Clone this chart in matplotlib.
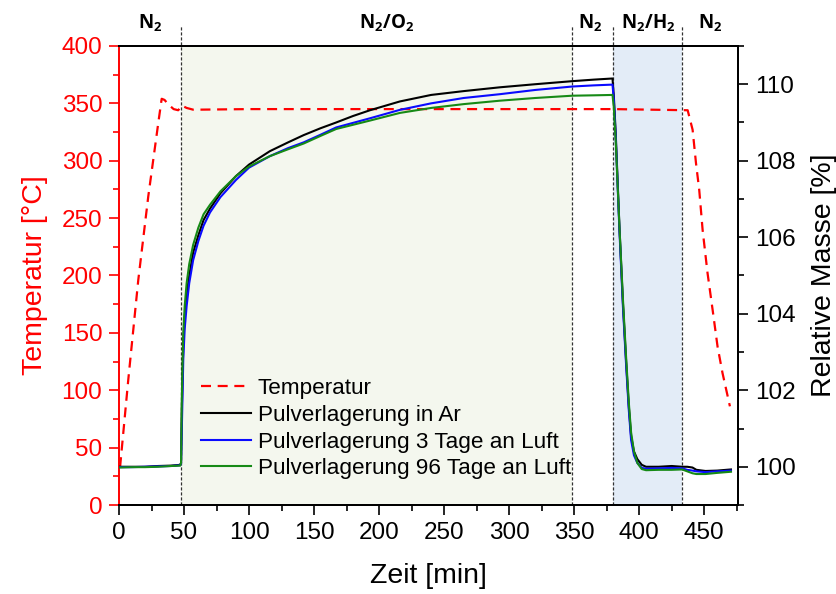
import numpy as np
import matplotlib
matplotlib.use("Agg")
import matplotlib.pyplot as plt
from matplotlib.ticker import MultipleLocator

plt.rcParams['font.family'] = ['Liberation Sans', 'DejaVu Sans']
plt.rcParams['mathtext.fontset'] = 'custom'
plt.rcParams['mathtext.rm'] = 'Open Sans:bold'
plt.rcParams['mathtext.it'] = 'Open Sans:bold'
plt.rcParams['mathtext.bf'] = 'Open Sans:bold'

# temperature program (left axis)
t_temp = [0.8, 7.1, 14.8, 22.5, 30.2, 32.8, 35, 38, 42, 45.5, 48.5, 52, 57, 61,
          100, 200, 300, 380, 437.3, 441.1, 443.7, 446.2, 448.8, 452.6, 456.5,
          460.3, 464.1, 469.8]
temp = [33, 109, 196, 269, 333, 354, 353, 349, 345, 344, 348, 346, 344.5, 344.5,
        345, 345, 345, 345, 344, 327, 298, 274.5, 239.7, 202, 170,
        138, 115, 86]

# relative mass (right axis)
t_mass = [0, 10, 20, 30, 40, 47, 47.7, 48.3, 49.4, 50.5, 52, 54, 57, 61, 65, 70,
          78, 90, 100, 116, 130, 142, 155, 167, 180, 193, 216, 240, 265, 293,
          320, 348.5, 365, 379.5, 380.5, 382, 384.8, 387.5, 389.9, 392, 393.8,
          396, 398.6, 402, 405.3, 415, 425, 433, 437, 441, 444, 451, 460, 470.6]
m_ar = [100.0, 100.0, 100.0, 100.02, 100.03, 100.05, 100.1, 101.5, 103.2, 103.9,
        104.5, 105.0, 105.6, 106.05, 106.45, 106.75, 107.15, 107.6, 107.9, 108.25,
        108.48, 108.67, 108.85, 109.0, 109.17, 109.32, 109.55, 109.72, 109.82,
        109.92, 110.0, 110.08, 110.12, 110.15, 109.7, 108.7, 106.3, 104.3, 102.8,
        101.6, 100.8, 100.4, 100.2, 100.05, 100.0, 100.0, 100.02, 100.0, 100.0,
        99.98, 99.92, 99.89, 99.9, 99.93]
m_3d = [99.99, 99.99, 100.0, 100.01, 100.02, 100.04, 100.08, 101.0, 102.8, 103.6,
        104.2, 104.8, 105.4, 105.9, 106.3, 106.65, 107.05, 107.5, 107.82, 108.12,
        108.33, 108.48, 108.68, 108.87, 108.99, 109.11, 109.33, 109.5, 109.64,
        109.74, 109.85, 109.94, 109.97, 109.99, 109.6, 108.6, 106.2, 104.2, 102.7,
        101.5, 100.7, 100.3, 100.1, 99.97, 99.95, 99.96, 99.97, 99.96, 99.92,
        99.9, 99.88, 99.86, 99.88, 99.9]
m_96d = [99.98, 99.99, 99.99, 100.0, 100.02, 100.03, 100.1, 101.8, 103.5, 104.2,
         104.8, 105.3, 105.8, 106.25, 106.6, 106.85, 107.2, 107.6, 107.85, 108.12,
         108.3, 108.45, 108.65, 108.83, 108.94, 109.05, 109.25, 109.38, 109.48,
         109.57, 109.64, 109.7, 109.71, 109.72, 109.4, 108.5, 106.3, 104.4, 102.9,
         101.7, 100.9, 100.4, 100.1, 99.94, 99.91, 99.92, 99.92, 99.93, 99.88,
         99.83, 99.81, 99.81, 99.84, 99.87]

# gas atmosphere segments
switch_t = [47.7, 348.5, 380, 433]
gas_pos = [24, 206, 362, 407, 455]
gas_lbl = [r'$\mathbf{N_2}$', r'$\mathbf{N_2/O_2}$', r'$\mathbf{N_2}$',
           r'$\mathbf{N_2/H_2}$', r'$\mathbf{N_2}$']

fig = plt.figure(figsize=(8.37, 5.94), dpi=100)
ax = fig.add_axes([0.1422, 0.1498, 0.7395, 0.7728])
ax2 = ax.twinx()

ax.axvspan(switch_t[0], switch_t[1], color='#f4f7ee', lw=0, zorder=0)
ax.axvspan(switch_t[2], switch_t[3], color='#e3ecf7', lw=0, zorder=0)
for s in switch_t:
    ax.axvline(s, ymin=0, ymax=1.045, color='#333333', lw=0.9,
               ls=(0, (2.5, 1.5)), clip_on=False, zorder=1)
for p, l in zip(gas_pos, gas_lbl):
    ax.text(p, 1.0385, l, transform=ax.get_xaxis_transform(), ha='center',
            va='baseline', fontsize=13.5)

h_t, = ax.plot(t_temp, temp, color='#ff0000', lw=1.6, ls=(0, (4.5, 3)),
               label='Temperatur', zorder=2)
h1, = ax2.plot(t_mass, m_ar, color='black', lw=1.5, label='Pulverlagerung in Ar')
h2, = ax2.plot(t_mass, m_3d, color='#0a0aff', lw=1.5,
               label='Pulverlagerung 3 Tage an Luft')
h3, = ax2.plot(t_mass, m_96d, color='#168a16', lw=1.5,
               label='Pulverlagerung 96 Tage an Luft')

ax.set_xlim(0, 476)
ax.set_ylim(0, 400)
ax2.set_ylim(99, 111)

ax.xaxis.set_major_locator(MultipleLocator(50))
ax.xaxis.set_minor_locator(MultipleLocator(25))
ax.yaxis.set_major_locator(MultipleLocator(50))
ax.yaxis.set_minor_locator(MultipleLocator(25))
ax2.yaxis.set_major_locator(MultipleLocator(2))
ax2.yaxis.set_minor_locator(MultipleLocator(1))

ax.tick_params(which='both', direction='out', width=1.2, labelsize=17.5)
ax.tick_params(which='major', length=7, pad=5)
ax.tick_params(which='minor', length=4)
ax.tick_params(axis='y', which='both', colors='red')
ax2.tick_params(which='both', direction='out', width=1.2, labelsize=17.5)
ax2.tick_params(which='major', length=7, pad=5)
ax2.tick_params(which='minor', length=4)

ax.spines['left'].set_color('red')
for sp in ax.spines.values():
    sp.set_linewidth(1.4)
for sp in ax2.spines.values():
    sp.set_linewidth(1.4)
ax2.spines['left'].set_visible(False)

ax.set_xlabel('Zeit [min]', fontsize=20.5, labelpad=14)
ax.set_ylabel('Temperatur [°C]', fontsize=20.5, color='red', labelpad=10)
ax2.set_ylabel('Relative Masse [%]', fontsize=20.5, labelpad=11)

ax2.legend(handles=[h_t, h1, h2, h3], loc='lower left', frameon=False,
           bbox_to_anchor=(0.2405, 0.193), bbox_transform=fig.transFigure,
           fontsize=16.2, handlelength=2.2, handletextpad=0.3,
           labelspacing=0.26, borderpad=0, borderaxespad=0)

fig.savefig('out.png', dpi=100)
